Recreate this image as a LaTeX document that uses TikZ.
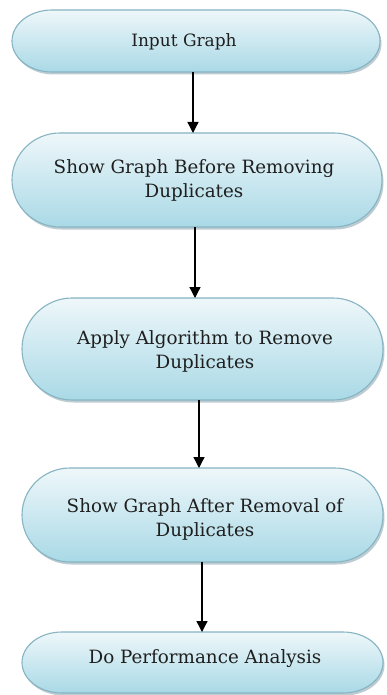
\documentclass[tikz,border=0pt]{standalone}
\usepackage{fontspec}
\setmainfont{DejaVu Serif}
\usetikzlibrary{arrows.meta}
\definecolor{pilltop}{HTML}{EEF7FA}
\definecolor{pillbot}{HTML}{A9D9E6}
\definecolor{pilledge}{HTML}{86B4C3}
\definecolor{pillshadow}{HTML}{6E8F9C}
\tikzset{
  pillbody/.style={top color=pilltop, bottom color=pillbot, draw=pilledge, line width=1.1pt},
  pillshade/.style={fill=pillshadow, opacity=0.45},
  anchorbox/.style={inner sep=0pt, outer sep=0pt, draw=none},
  label text/.style={align=center, font=\fontsize{18.3}{24}\selectfont, text=black!88, inner sep=0pt},
  arr/.style={line width=1.3pt, -{Triangle[width=11pt,length=11pt]}},
}
% pill shape: name, left, top, right, bottom, end radius
\newcommand\pillshape[6]{%
  \pgfmathsetmacro\pillhh{(#5-#3)/2}%
  \fill[pillshade] ({#2+#6+1.5},{#3+2.5}) -- ({#4-#6+1.5},{#3+2.5})
     arc[start angle=90, end angle=-90, x radius=#6pt, y radius=\pillhh pt]
     -- ({#2+#6+1.5},{#5+2.5})
     arc[start angle=270, end angle=90, x radius=#6pt, y radius=\pillhh pt] -- cycle;
  \path[pillbody] ({#2+#6},#3) -- ({#4-#6},#3)
     arc[start angle=90, end angle=-90, x radius=#6pt, y radius=\pillhh pt]
     -- ({#2+#6},#5)
     arc[start angle=270, end angle=90, x radius=#6pt, y radius=\pillhh pt] -- cycle;
  \node[anchorbox, minimum width={(#4-#2)*1pt}, minimum height={(#5-#3)*1pt}]
     (#1) at ({(#2+#4)/2},{(#3+#5)/2}) {};
}
\begin{document}
\begin{tikzpicture}[x=1pt, y=-1pt]
\useasboundingbox[fill=white] (0,0) rectangle (386,695);

\pillshape{n1}{12}{10}{380}{72}{40}
\pillshape{n2}{12}{133}{382}{227}{48}
\pillshape{n3}{22}{298}{383}{400}{50}
\pillshape{n4}{22}{468}{383}{562}{48}
\pillshape{n5}{22}{632}{383}{693}{40}

\node[label text, font=\fontsize{17}{24}\selectfont] (t1) at (184,42) {Input Graph};
\node[label text] (t2) at (194,180) {Show Graph Before Removing\\Duplicates};
\node[label text] (t3) at (205,351) {Apply Algorithm to Remove\\Duplicates};
\node[label text] (t4) at (205,519) {Show Graph After Removal of\\Duplicates};
\node[label text] (t5) at (205,659) {Do Performance Analysis};

\draw[arr] (n1.south -| 193,0) -- (n2.north -| 193,0);
\draw[arr] (n2.south -| 195,0) -- (n3.north -| 195,0);
\draw[arr] (n3.south -| 199,0) -- (n4.north -| 199,0);
\draw[arr] (n4.south -| 202,0) -- (n5.north -| 202,0);
\end{tikzpicture}
\end{document}
